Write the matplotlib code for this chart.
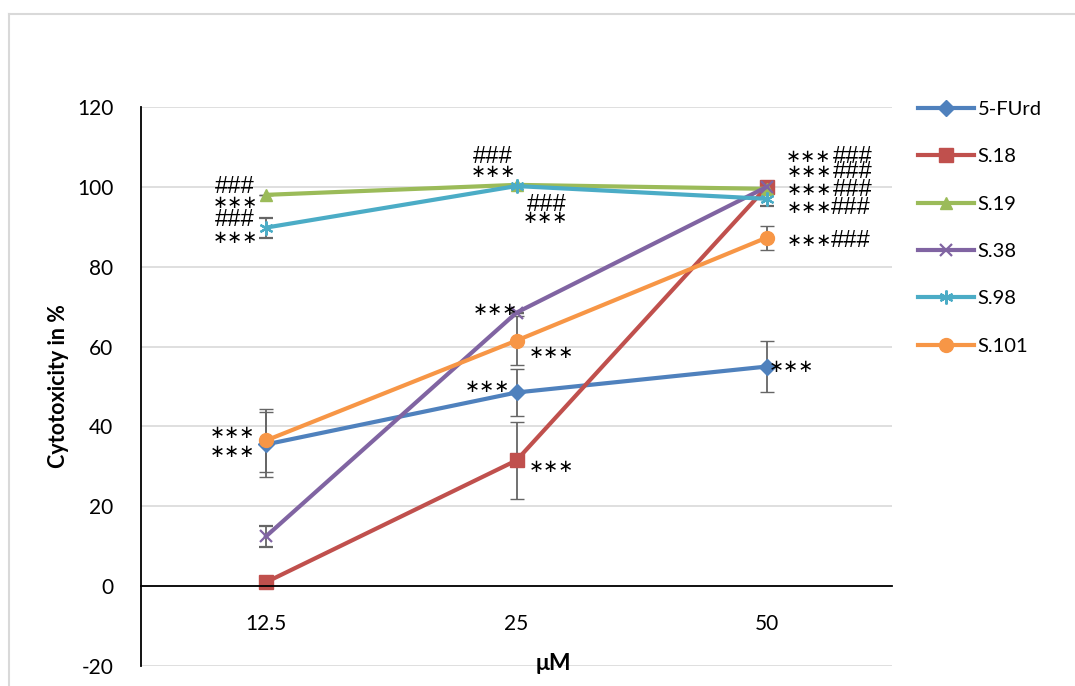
import matplotlib.pyplot as plt
from matplotlib.lines import Line2D

# concentrations (categorical x axis)
conc = ['12.5', '25', '50']

furd = [35.5, 48.5, 55.0]
furd_err = [8.1, 6.0, 6.3]
s18 = [1.0, 31.5, 100.0]
s18_err = [0, 9.7, 0]
s19 = [98.0, 100.5, 99.5]
s19_err = [0, 0, 0]
s38 = [12.5, 68.5, 100.0]
s38_err = [2.6, 0, 0]
s98 = [89.8, 100.2, 97.0]
s98_err = [2.5, 0, 1.8]
s101 = [36.5, 61.5, 87.3]
s101_err = [7.9, 6.2, 3.0]

series = [
    ('5-FUrd', furd, furd_err, '#4F81BD', 'D', 8),
    ('S.18', s18, s18_err, '#C0504D', 's', 10),
    ('S.19', s19, s19_err, '#9BBB59', '^', 9),
    ('S.38', s38, s38_err, '#8064A2', 'x', 9),
    ('S.98', s98, s98_err, '#4BACC6', (6, 2, 0), 10),
    ('S.101', s101, s101_err, '#F79646', 'o', 10),
]

# significance marks: (x index, y value)
stars = [
    (-0.124, 96.0), (-0.124, 87.2), (0.906, 103.8), (1.114, 92.2),
    (0.914, 69.2), (1.138, 58.4), (0.882, 49.9), (1.138, 29.8),
    (-0.136, 38.3), (-0.136, 33.6),
    (2.165, 107.5), (2.170, 103.8), (2.170, 99.2), (2.172, 94.7),
    (2.172, 86.5), (2.10, 54.9),
]
hashes = [
    (-0.124, 100.0), (-0.124, 91.7), (0.906, 107.5), (1.122, 95.5),
    (2.345, 107.5), (2.345, 103.8), (2.345, 99.2), (2.335, 94.7),
    (2.335, 86.5),
]

plt.rcParams['font.family'] = ['Lato', 'DejaVu Sans']
plt.rcParams['axes.unicode_minus'] = False

fig = plt.figure(figsize=(10.75, 6.86), dpi=100)
ax = fig.add_axes([141 / 1075, 20 / 686, 751 / 1075, 559 / 686])

xs = range(len(conc))
handles = []
for name, vals, err, col, mk, ms in series:
    mew = 1.6 if mk == 'x' or isinstance(mk, tuple) else 1
    ax.errorbar(xs, vals, yerr=err, color=col, lw=3, marker=mk, markersize=ms,
                markeredgewidth=mew, ecolor='#666666', elinewidth=1.3,
                capsize=5, capthick=1.3)
    handles.append(Line2D([], [], color=col, lw=3, marker=mk, markersize=ms,
                          markeredgewidth=mew, label=name))

for x, y in stars:
    ax.text(x, y, '∗∗∗', ha='center', va='center', fontsize=13,
            family='DejaVu Sans', color='black')
for x, y in hashes:
    ax.text(x, y, '###', ha='center', va='center', fontsize=17,
            family='Liberation Sans', color='black')

ax.set_xlim(-0.5, 2.5)
ax.set_ylim(-20, 120)
ax.set_yticks(range(-20, 121, 20))
ax.set_xticks(list(xs))
ax.set_xticklabels(conc)
ax.grid(axis='y', color='#d9d9d9', lw=1.2)
ax.set_axisbelow(True)

for s in ['top', 'right']:
    ax.spines[s].set_visible(False)
ax.spines['bottom'].set_position(('data', 0))
ax.spines['bottom'].set_color('black')
ax.spines['bottom'].set_linewidth(1.3)
ax.spines['left'].set_linewidth(1.3)
ax.tick_params(axis='y', length=0, pad=20, labelsize=15)
ax.tick_params(axis='x', length=0, pad=20, labelsize=15)

ax.set_ylabel('Cytotoxicity in %', fontsize=15.5, fontweight='bold', labelpad=6)
fig.text(553 / 1075, 1 - 664 / 686, 'μM', ha='center', va='center',
         fontsize=16.5, fontweight='bold')

ax.legend(handles=handles, loc='upper left', bbox_to_anchor=(918 / 1075, 1 - 101 / 686),
          bbox_transform=fig.transFigure, frameon=False, fontsize=14.5,
          handlelength=2.8, handletextpad=0.15, labelspacing=1.5, borderpad=0,
          borderaxespad=0)

# outer chart frame
fig.add_artist(Line2D([9 / 1075, 1], [1 - 14 / 686, 1 - 14 / 686],
                      transform=fig.transFigure, color='#d9d9d9', lw=1.5))
fig.add_artist(Line2D([9 / 1075, 9 / 1075], [0, 1 - 14 / 686],
                      transform=fig.transFigure, color='#d9d9d9', lw=1.5))

fig.savefig('out.png', dpi=100)
